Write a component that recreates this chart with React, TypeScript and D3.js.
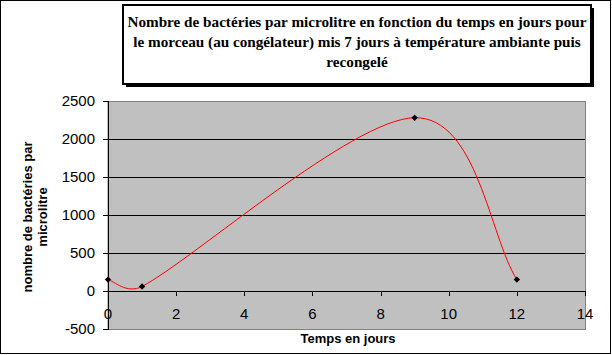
import React from "react";
import * as d3 from "d3";

const days = [0, 1, 9, 12];
const bacteria = [150, 60, 2280, 150];
const xTicks = [0, 2, 4, 6, 8, 10, 12, 14];
const yTicks = [-500, 0, 500, 1000, 1500, 2000, 2500];
const titleLines = [
  "Nombre de bactéries par microlitre en fonction du temps en jours pour",
  "le morceau (au congélateur) mis 7 jours à température ambiante puis",
  "recongelé",
];
const yTitleLines = ["nombre de bactéries par", "microlitre"];
const xTitle = "Temps en jours";

// Excel-like smoothed line: cubic Bezier with Catmull-Rom tangents, clamped
function smoothPath(pts: [number, number][]): string {
  const p = d3.path();
  const n = pts.length;
  p.moveTo(pts[0][0], pts[0][1]);
  for (let i = 0; i < n - 1; i++) {
    const p0 = pts[Math.max(0, i - 1)];
    const p1 = pts[i];
    const p2 = pts[i + 1];
    const p3 = pts[Math.min(n - 1, i + 2)];
    const chord = Math.hypot(p2[0] - p1[0], p2[1] - p1[1]);
    const clamp = (dx: number, dy: number): [number, number] => {
      const len = Math.hypot(dx, dy);
      const max = chord / 2;
      if (len > max && len > 0) return [(dx * max) / len, (dy * max) / len];
      return [dx, dy];
    };
    let [ax, ay] = clamp((p2[0] - p0[0]) / 6, (p2[1] - p0[1]) / 6);
    let [bx, by] = i + 2 >= n
      ? clamp((p3[0] - p1[0]) / 6 * 1.6, (p3[1] - p1[1]) / 6 * 1.6)
      : clamp((p3[0] - p1[0]) / 6, (p3[1] - p1[1]) / 6);
    p.bezierCurveTo(p1[0] + ax, p1[1] + ay, p2[0] - bx, p2[1] - by, p2[0], p2[1]);
  }
  return p.toString();
}

export default function App() {
  const W = 612, H = 355;
  const pl = 108, pr = 585, pt = 101, pb = 329;
  const x = d3.scaleLinear().domain([0, 14]).range([pl, pr]);
  const y = d3.scaleLinear().domain([-500, 2500]).range([pb, pt]);
  const pts: [number, number][] = days.map((d, i) => [x(d), y(bacteria[i])]);
  const line = smoothPath(pts);
  const diamond = "M0,-3.2L3.2,0L0,3.2L-3.2,0Z";
  const sans = "'Liberation Sans', Arial, sans-serif";
  const serif = "'Liberation Serif', 'Times New Roman', serif";
  return (
    <svg width={W} height={H} style={{ position: "absolute", left: 0, top: 0, display: "block" }}>
      <rect x={0.5} y={0.5} width={610} height={353} fill="#fff" stroke="#000" strokeWidth={1} />
      <rect x={126} y={8} width={468} height={79} fill="#000" />
      <rect x={123} y={5} width={468} height={79} fill="#fff" stroke="#000" strokeWidth={2} />
      {titleLines.map((t, i) => (
        <text key={i} x={357} y={27 + i * 20} textAnchor="middle" fontFamily={serif} fontWeight="bold" fontSize={15.2} fill="#000">
          {t}
        </text>
      ))}
      <rect x={pl} y={pt + 0.5} width={pr - pl + 0.5} height={pb - pt} fill="#c0c0c0" stroke="#808080" strokeWidth={1} />
      {yTicks.filter(v => v > -500 && v < 2500).map(v => (
        <line key={v} x1={pl} x2={pr} y1={Math.round(y(v)) + 0.5} y2={Math.round(y(v)) + 0.5} stroke="#000" strokeWidth={1} />
      ))}
      <line x1={pl + 0.5} x2={pl + 0.5} y1={pt} y2={pb + 1} stroke="#000" />
      {yTicks.map(v => (
        <g key={v}>
          <line x1={pl - 5} x2={pl} y1={Math.round(y(v)) + 0.5} y2={Math.round(y(v)) + 0.5} stroke="#000" />
          <text x={95} y={y(v) + 5} textAnchor="end" fontFamily={sans} fontSize={15} fill="#000">{v}</text>
        </g>
      ))}
      {xTicks.map(v => (
        <g key={v}>
          <line x1={Math.round(x(v)) + 0.5} x2={Math.round(x(v)) + 0.5} y1={y(0)} y2={y(0) + 5} stroke="#000" />
          <text x={x(v)} y={319} textAnchor="middle" fontFamily={sans} fontSize={15} fill="#000">{v}</text>
        </g>
      ))}
      <path d={line} fill="none" stroke="#ff0000" strokeWidth={1} />
      {pts.map((p, i) => (
        <path key={i} d={diamond} transform={`translate(${p[0]},${p[1]})`} fill="#000" />
      ))}
      <text x={348} y={343} textAnchor="middle" fontFamily={sans} fontWeight="bold" fontSize={13} fill="#000">{xTitle}</text>
      <text transform="translate(32,217) rotate(-90)" textAnchor="middle" fontFamily={sans} fontWeight="bold" fontSize={13} fill="#000">
        {yTitleLines.map((t, i) => (
          <tspan key={i} x={0} dy={i === 0 ? 0 : 15}>{t}</tspan>
        ))}
      </text>
    </svg>
  );
}
